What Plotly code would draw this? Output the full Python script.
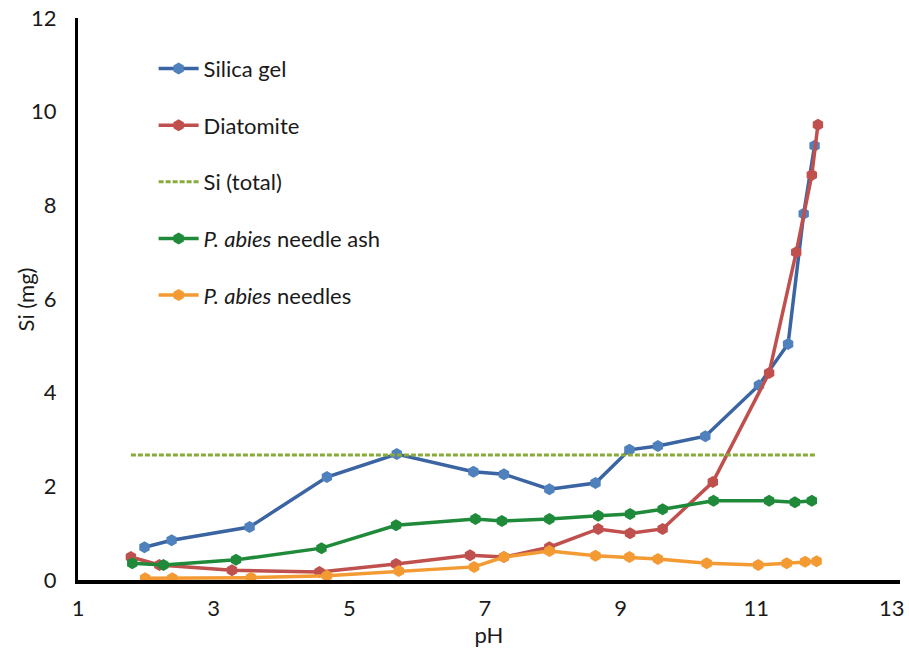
import plotly.graph_objects as go

# Dissolved silicon released from each material as a function of pH
ph_silica = [1.98, 2.38, 3.53, 4.67, 5.70, 6.83, 7.28, 7.95, 8.63, 9.13, 9.55, 10.25, 11.04, 11.47, 11.70, 11.86]
si_silica = [0.70, 0.85, 1.13, 2.20, 2.69, 2.31, 2.26, 1.94, 2.07, 2.78, 2.86, 3.07, 4.16, 5.04, 7.82, 9.27]

ph_diatomite = [1.78, 2.20, 3.27, 4.56, 5.69, 6.78, 7.28, 7.95, 8.67, 9.14, 9.62, 10.36, 11.19, 11.59, 11.82, 11.91]
si_diatomite = [0.49, 0.32, 0.21, 0.17, 0.34, 0.53, 0.49, 0.70, 1.09, 1.00, 1.09, 2.09, 4.42, 7.00, 8.65, 9.72]

ph_total = [1.78, 11.88]
si_total = [2.67, 2.67]

ph_ash = [1.80, 2.26, 3.33, 4.59, 5.69, 6.86, 7.25, 7.95, 8.67, 9.14, 9.62, 10.37, 11.19, 11.57, 11.82]
si_ash = [0.36, 0.32, 0.43, 0.68, 1.17, 1.30, 1.26, 1.30, 1.37, 1.41, 1.51, 1.69, 1.69, 1.66, 1.69]

ph_needles = [1.99, 2.39, 3.55, 4.67, 5.73, 6.84, 7.28, 7.95, 8.63, 9.13, 9.55, 10.27, 11.03, 11.45, 11.72, 11.89]
si_needles = [0.04, 0.04, 0.05, 0.09, 0.19, 0.28, 0.49, 0.62, 0.52, 0.49, 0.45, 0.36, 0.32, 0.36, 0.39, 0.40]

x_ticks = [1, 3, 5, 7, 9, 11, 13]
y_ticks = [0, 2, 4, 6, 8, 10, 12]

FONT = "Lato, 'Open Sans', sans-serif"
TEXT = "#1a1a1a"
SIZE = 22

fig = go.Figure()


def add_series(x, y, name, line_color, marker_color, group):
    fig.add_trace(go.Scatter(
        x=x, y=y, name=name, mode="lines+markers", legendgroup=group,
        line=dict(color=line_color, width=3.5),
        marker=dict(symbol="hexagon", size=12, color=marker_color,
                    line=dict(width=0)),
    ))


add_series(ph_silica, si_silica, "Silica gel", "#3A64A2", "#4F81BD", "g1")
add_series(ph_diatomite, si_diatomite, "Diatomite", "#C0504D", "#C0504D", "g2")
fig.add_trace(go.Scatter(
    x=ph_total, y=si_total, name="Si (total)", mode="lines", legendgroup="g3",
    line=dict(color="#8AAA3C", width=3, dash="5px,2px"),
))
add_series(ph_ash, si_ash, "<i>P. abies</i> needle ash", "#1E8A3A", "#1E8A3A", "g4")
add_series(ph_needles, si_needles, "<i>P. abies</i> needles", "#F39A33", "#F39A33", "g5")

fig.update_layout(
    width=909, height=652,
    margin=dict(l=78, r=4, t=18, b=72),
    paper_bgcolor="white", plot_bgcolor="white",
    font=dict(family=FONT, size=SIZE, color=TEXT),
    showlegend=True,
    legend=dict(
        x=0.092, y=0.947, xanchor="left", yanchor="top",
        bgcolor="rgba(0,0,0,0)", tracegroupgap=25,
        font=dict(family=FONT, size=SIZE, color=TEXT),
        itemwidth=40,
    ),
    xaxis=dict(
        range=[1, 13.12], tickvals=x_ticks, ticktext=[str(v) for v in x_ticks],
        showgrid=False, zeroline=False, showline=True, linecolor="black",
        linewidth=3.5, ticks="", ticklabelstandoff=6, ticklabeloverflow="allow",
        title=dict(text="pH", standoff=8, font=dict(size=SIZE)),
    ),
    yaxis=dict(
        range=[0, 12], tickvals=y_ticks, ticktext=[str(v) for v in y_ticks],
        showgrid=False, zeroline=False, showline=True, linecolor="black",
        linewidth=3, ticks="", ticklabelstandoff=14,
    ),
    annotations=[dict(
        text="Si (mg)", textangle=-90, showarrow=False,
        xref="paper", yref="paper", x=-0.064, y=0.5,
        xanchor="center", yanchor="middle",
        font=dict(family=FONT, size=SIZE, color=TEXT),
    )],
)

fig.write_html("out.html")
